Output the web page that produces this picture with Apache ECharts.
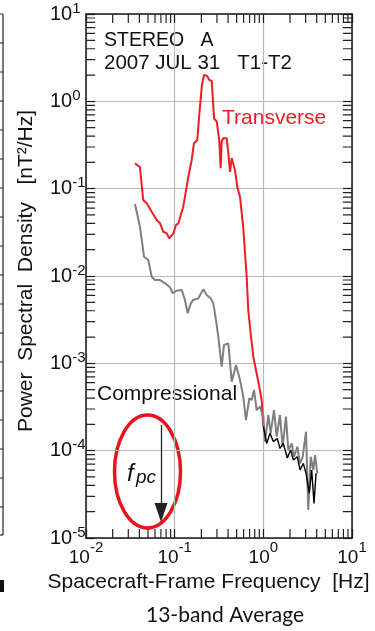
<!DOCTYPE html>
<html>
<head>
<meta charset="utf-8">
<script src="https://cdn.jsdelivr.net/npm/echarts@6/dist/echarts.min.js"></script>
<style>
html,body{margin:0;padding:0;background:#fff;}
#chart{width:375px;height:631px;}
</style>
</head>
<body>
<div id="chart"></div>
<script>
// ---- data (frequency in Hz, PSD in nT^2/Hz) ----
const freqTransverse = [0.0357,0.0406,0.0442,0.0484,0.0551,0.0627,0.0684,0.0745,0.0813,0.0869,0.0966,0.1035,0.110,0.125,0.1426,0.1556,0.165,0.180,0.190,0.197,0.203,0.214,0.233,0.246,0.262,0.278,0.298,0.318,0.330,0.339,0.353,0.386,0.403,0.421,0.440,0.458,0.479,0.508,0.546,0.594,0.649,0.676,0.719,0.771,0.826,0.900,0.957,1.00];
const psdTransverse = [0.195,0.176,0.0741,0.0680,0.0545,0.0438,0.0401,0.0321,0.0308,0.0270,0.0308,0.0384,0.0401,0.0622,0.137,0.213,0.331,0.361,0.729,0.760,1.54,2.00,1.95,1.75,1.72,0.640,0.585,0.361,0.171,0.345,0.378,0.378,0.254,0.156,0.223,0.213,0.164,0.105,0.0803,0.0355,0.0098,0.00408,0.00221,0.00119,0.000839,0.000540,0.000380,0.000188];

const freqCompressional = [0.0357,0.0406,0.0451,0.0504,0.0551,0.0600,0.0684,0.0778,0.0885,0.0951,0.1054,0.120,0.1307,0.140,0.152,0.162,0.1847,0.2104,0.2296,0.2547,0.2729,0.2924,0.3105,0.339,0.360,0.403,0.440,0.492,0.546,0.594,0.637,0.695,0.740,0.785,0.841,0.916,1.00,1.044,1.138,1.21,1.318,1.415,1.54,1.652,1.80,1.912,2.089,2.218,2.415,2.592,2.78,3.03,3.21,3.42,3.66,3.83,4.06];
const psdCompressional = [0.0667,0.0367,0.01663,0.01524,0.00982,0.00900,0.00900,0.00824,0.00742,0.00634,0.00679,0.00692,0.00531,0.00374,0.00486,0.00531,0.00555,0.00705,0.00606,0.00555,0.00486,0.00313,0.00202,0.000915,0.00162,0.00169,0.000616,0.000957,0.000644,0.000415,0.000224,0.000398,0.000380,0.000495,0.000292,0.000319,0.000245,0.000127,0.000256,0.000158,0.000292,0.000145,0.000256,0.000111,0.000245,0.000102,0.000121,0.0000853,0.000111,0.0000716,0.0000853,0.000165,0.0000209,0.0000853,0.0000601,0.0000891,0.0000551];

const freqBlack = [1.00,1.044,1.091,1.189,1.295,1.437,1.54,1.68,1.863,2.035,2.177,2.415,2.592,2.823,3.03,3.30,3.51,3.73,3.93];
const psdBlack = [0.000188,0.000180,0.000121,0.000158,0.000127,0.000138,0.000106,0.000121,0.0000824,0.000102,0.0000782,0.0000853,0.0000601,0.0000716,0.0000551,0.0000325,0.0000601,0.0000249,0.0000551];

// proton cyclotron frequency marker (arrow)
const fpc = 0.0702;
const fpcArrowTop = 1.97e-4;
const fpcArrowHead = 1.96e-5;

// axes
const X_MIN = 0.01, X_MAX = 10;
const Y_MIN = 1e-5, Y_MAX = 10;
const xDecades = [0.01, 0.1, 1];
const yDecades = [1e-5, 1e-4, 1e-3, 1e-2, 1e-1, 1];
const minorMultipliers = [2,3,4,5,6,7,8,9];

const xMinorTicks = [];
xDecades.forEach(d => minorMultipliers.forEach(m => xMinorTicks.push(+(d*m).toPrecision(3))));
const yMinorTicks = [];
yDecades.forEach(d => minorMultipliers.forEach(m => yMinorTicks.push(+(d*m).toPrecision(3))));

const zip = (a, b) => a.map((v, i) => [v, b[i]]);

const FONT = "'Liberation Sans', Arial, sans-serif";
const AXIS_COLOR = '#1a1a1a';
// minor tick length expressed as a fraction of one decade (~9 px)
const TICK_DECADES = 0.103;
const TICK_F = Math.pow(10, TICK_DECADES);

function expFmt(v) {
  const e = Math.round(Math.log10(v));
  return '{b|10}{s|' + e + '}';
}

// tick segments as a broken polyline (breaks with '-')
const tickSegments = [];
xMinorTicks.forEach(v => {
  tickSegments.push([v, Y_MIN], [v, Y_MIN * TICK_F], [v, '-']);
  tickSegments.push([v, Y_MAX], [v, Y_MAX / TICK_F], [v, '-']);
});
yMinorTicks.forEach(v => {
  tickSegments.push([X_MIN, v], [X_MIN * TICK_F, v], ['-', v]);
  tickSegments.push([X_MAX, v], [X_MAX / TICK_F, v], ['-', v]);
});

const chart = echarts.init(document.getElementById('chart'));

const axisCommon = {
  type: 'log', logBase: 10, interval: 1,
  axisLine: {show: true, onZero: false, lineStyle: {color: AXIS_COLOR, width: 1.5}},
  axisTick: {show: true, inside: true, length: 9, lineStyle: {color: AXIS_COLOR, width: 1.2}},
  minorTick: {show: false}
};

// left neighbour-panel remnant
const graphics = [
  {type: 'line', shape: {x1: 3, y1: 14, x2: 3, y2: 535}, style: {stroke: '#222', lineWidth: 1.2}},
  {type: 'line', shape: {x1: 0, y1: 535, x2: 3, y2: 535}, style: {stroke: '#222', lineWidth: 1.2}},
  {type: 'rect', shape: {x: 0, y: 580, width: 4, height: 12}, style: {fill: '#111'}}
];
for (let y = 14; y < 535; y += 29) {
  graphics.push({type: 'line', shape: {x1: 0, y1: y, x2: 3, y2: y}, style: {stroke: '#222', lineWidth: 1}});
}
graphics.push(
  {type: 'text', x: 104, y: 41, style: {text: 'STEREO   A', fontSize: 19.5, fontFamily: FONT, fill: '#111', align: 'left', verticalAlign: 'middle'}},
  {type: 'text', x: 104, y: 63, style: {text: '2007 JUL 31   T1-T2', fontSize: 20.5, fontFamily: FONT, fill: '#111', align: 'left', verticalAlign: 'middle'}},
  {type: 'text', x: 222, y: 118, style: {text: 'Transverse', fontSize: 21, fontFamily: FONT, fill: '#ee1c24', align: 'left', verticalAlign: 'middle'}},
  {type: 'text', x: 97, y: 394.5, style: {text: 'Compressional', fontSize: 21, fontFamily: FONT, fill: '#111', align: 'left', verticalAlign: 'middle'}},
  {type: 'ellipse', shape: {cx: 147.5, cy: 471.5, rx: 33, ry: 56.5}, style: {fill: 'none', stroke: '#e8141c', lineWidth: 3.5}},
  {type: 'text', x: 127, y: 474, style: {text: 'f', fontSize: 24, fontStyle: 'italic', fontFamily: FONT, fill: '#111', align: 'left', verticalAlign: 'middle'}},
  {type: 'text', x: 136, y: 478, style: {text: 'pc', fontSize: 19, fontStyle: 'italic', fontFamily: FONT, fill: '#111', align: 'left', verticalAlign: 'middle'}},
  {type: 'text', x: 26.5, y: 271, rotation: Math.PI / 2, style: {text: 'Power  Spectral  Density   [nT\u00b2/Hz]', fontSize: 21, fontFamily: FONT, fill: '#111', align: 'center', verticalAlign: 'middle'}},
  {type: 'text', x: 208.5, y: 582, style: {text: 'Spacecraft-Frame Frequency  [Hz]', fontSize: 21, fontFamily: FONT, fill: '#111', align: 'center', verticalAlign: 'middle'}},
  {type: 'text', x: 225, y: 615, style: {text: '13-band Average', fontSize: 21, fontFamily: "Lato, 'Open Sans', sans-serif", fill: '#111', align: 'center', verticalAlign: 'middle'}}
);

const option = {
  animation: false,
  grid: {left: 86, right: 23, top: 14, bottom: 93},
  xAxis: [
    Object.assign({}, axisCommon, {
      position: 'bottom', min: X_MIN, max: X_MAX,
      axisLabel: {
        show: true, margin: 2, formatter: expFmt,
        rich: {
          b: {fontSize: 19, fontFamily: FONT, color: '#111', lineHeight: 36},
          s: {fontSize: 15, fontFamily: FONT, color: '#111', lineHeight: 15, verticalAlign: 'top'}
        }
      },
      splitLine: {show: true, lineStyle: {color: '#b9b9b9', width: 1.2}}
    }),
    Object.assign({}, axisCommon, {
      position: 'top', min: X_MIN, max: X_MAX,
      axisLabel: {show: false}, splitLine: {show: false}
    })
  ],
  yAxis: [
    Object.assign({}, axisCommon, {
      position: 'left', min: Y_MIN, max: Y_MAX,
      axisLabel: {
        show: true, margin: 36, align: 'left', formatter: expFmt,
        rich: {
          b: {fontSize: 20, fontFamily: FONT, color: '#111', lineHeight: 26},
          s: {fontSize: 15, fontFamily: FONT, color: '#111', lineHeight: 15, verticalAlign: 'top'}
        }
      },
      splitLine: {show: true, lineStyle: {color: '#b9b9b9', width: 1.2}}
    }),
    Object.assign({}, axisCommon, {
      position: 'right', min: Y_MIN, max: Y_MAX,
      axisLabel: {show: false}, splitLine: {show: false}
    })
  ],
  series: [
    {type: 'line', name: 'minorTicks', data: tickSegments, showSymbol: false, symbol: 'none',
     connectNulls: false, clip: false, silent: true,
     lineStyle: {color: '#222', width: 1.2}, z: 6},
    {type: 'line', name: 'Transverse', data: zip(freqTransverse, psdTransverse),
     showSymbol: false, lineStyle: {color: '#ee1c24', width: 2}, z: 3},
    {type: 'line', name: 'Compressional', data: zip(freqCompressional, psdCompressional),
     showSymbol: false, lineStyle: {color: '#7f7f7f', width: 2}, z: 4},
    {type: 'line', name: 'Black', data: zip(freqBlack, psdBlack),
     showSymbol: false, lineStyle: {color: '#000', width: 1.4}, z: 5,
     markLine: {
       silent: true, animation: false,
       symbol: ['none', 'triangle'], symbolSize: [13, 19],
       label: {show: false},
       lineStyle: {color: '#222', width: 1.3, type: 'solid'},
       data: [[{coord: [fpc, fpcArrowTop]}, {coord: [fpc, fpcArrowHead]}]]
     }}
  ],
  graphic: graphics
};

chart.setOption(option);
</script>
</body>
</html>
